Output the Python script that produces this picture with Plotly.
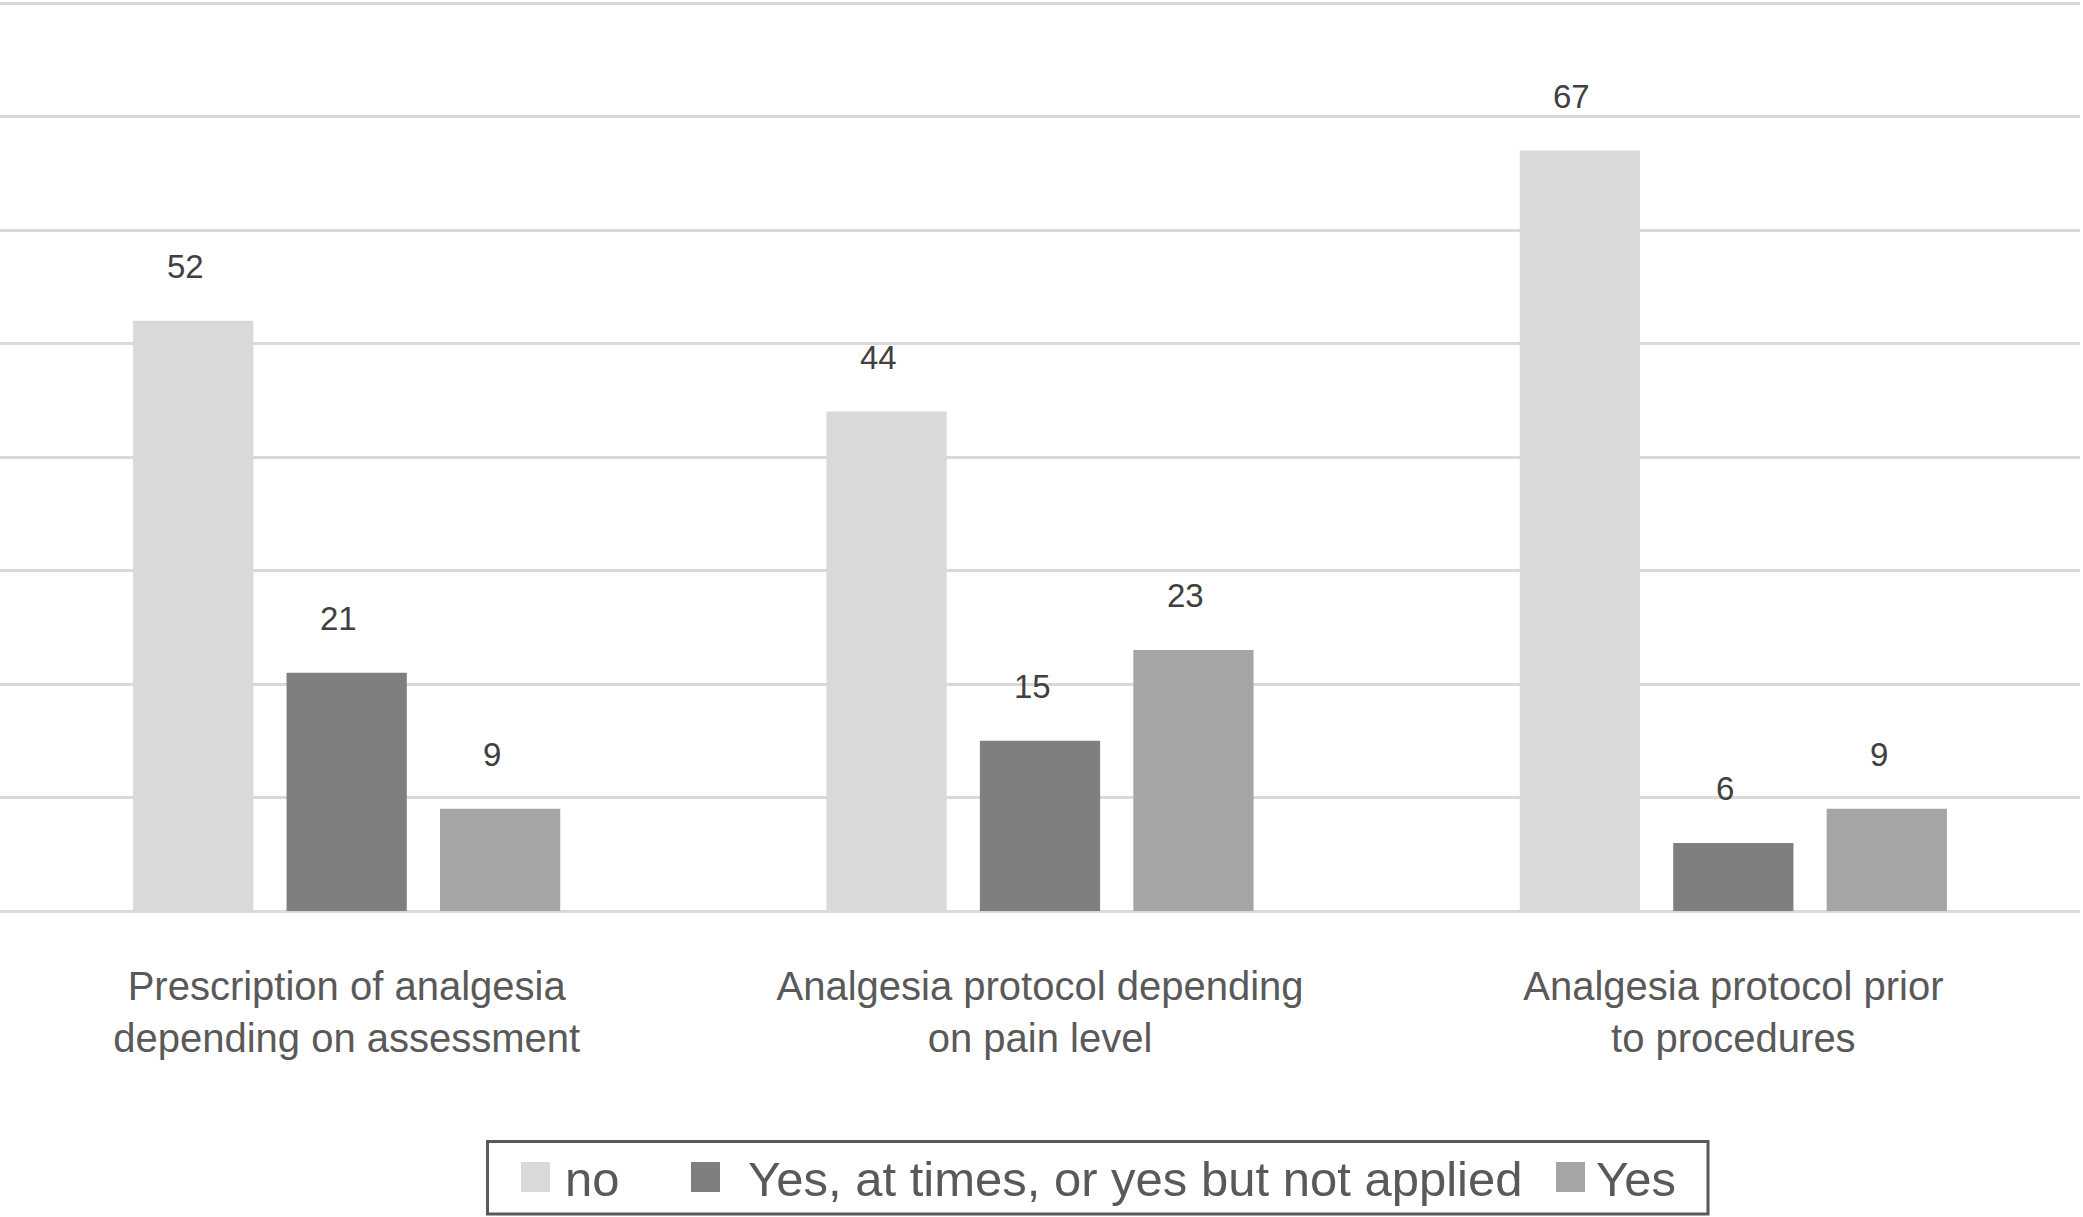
import plotly.graph_objects as go

categories = ["Prescription of analgesia<br>depending on assessment",
              "Analgesia protocol depending<br>on pain level",
              "Analgesia protocol prior<br>to procedures"]
series_names = ["no", "Yes, at times, or yes but not applied", "Yes"]
no_vals = [52, 44, 67]
yes_times_vals = [21, 15, 6]
yes_vals = [9, 23, 9]
colors = ["#d9d9d9", "#7f7f7f", "#a5a5a5"]

all_vals = [no_vals, yes_times_vals, yes_vals]

W, H = 2083, 1217
ML, MR, MT, MB = 0, 3, 0, 306
BARGAP = 0.336
BARGROUPGAP = 0.2165
FONT = "Liberation Sans, Arial, sans-serif"
YTOP = 80 * (H - MB) / (H - MB - 3)

fig = go.Figure()
for name, vals, col in zip(series_names, all_vals, colors):
    fig.add_trace(go.Bar(x=list(range(len(categories))), y=vals, name=name,
                         marker=dict(color=col, line=dict(width=0)),
                         showlegend=False, hoverinfo="y+name"))

# data labels above bars
slot = (1 - BARGAP) / len(all_vals)
annotations = []
for j, vals in enumerate(all_vals):
    for i, v in enumerate(vals):
        annotations.append(dict(x=i + (j - 1) * slot, y=v, xref="x", yref="y",
                                text=str(v), showarrow=False, yshift=54, xshift=-8,
                                yanchor="middle", xanchor="center",
                                font=dict(size=33, color="#404040", family=FONT)))

# custom legend (box, swatches, labels)
pw = W - ML - MR
ph = H - MT - MB
def px(X):
    return (X - ML) / pw
def py(Y):
    return (H - MB - Y) / ph

shapes = [dict(type="rect", xref="paper", yref="paper",
               x0=px(487.5), x1=px(1708), y0=py(1214), y1=py(1141.5),
               line=dict(color="#595959", width=3), fillcolor="rgba(0,0,0,0)")]
sw_left = [521, 691, 1556]
txt_left = [563, 746, 1594]
cy = 1177
for k, name in enumerate(series_names):
    shapes.append(dict(type="rect", xref="paper", yref="paper",
                       x0=px(sw_left[k]), x1=px(sw_left[k] + 29),
                       y0=py(cy + 15), y1=py(cy - 15),
                       line=dict(width=0), fillcolor=colors[k]))
    annotations.append(dict(x=px(txt_left[k]), y=py(cy + 2), xref="paper", yref="paper",
                            text=name, showarrow=False, xanchor="left", yanchor="middle",
                            font=dict(size=49, color="#595959", family=FONT)))

fig.update_layout(
    width=W, height=H,
    margin=dict(l=ML, r=MR, t=MT, b=MB),
    paper_bgcolor="white", plot_bgcolor="white",
    barmode="group", bargap=BARGAP, bargroupgap=BARGROUPGAP,
    font=dict(family=FONT, color="#595959"),
    showlegend=False,
    xaxis=dict(tickmode="array", tickvals=list(range(len(categories))), ticktext=categories,
               range=[-0.5, 2.5], showgrid=False, showline=False, zeroline=False, ticks="",
               tickfont=dict(size=40, color="#595959", family=FONT),
               ticklabelstandoff=48),
    yaxis=dict(range=[0, YTOP], tick0=0, dtick=10, showgrid=True, gridcolor="#d9d9d9", gridwidth=3,
               zeroline=True, zerolinecolor="#d9d9d9", zerolinewidth=3,
               showticklabels=False, ticks="", showline=False),
    shapes=shapes,
    annotations=annotations,
)

fig.write_html("out.html", config={"displayModeBar": False},
               post_script="document.body.style.margin='0';document.documentElement.style.margin='0';")
